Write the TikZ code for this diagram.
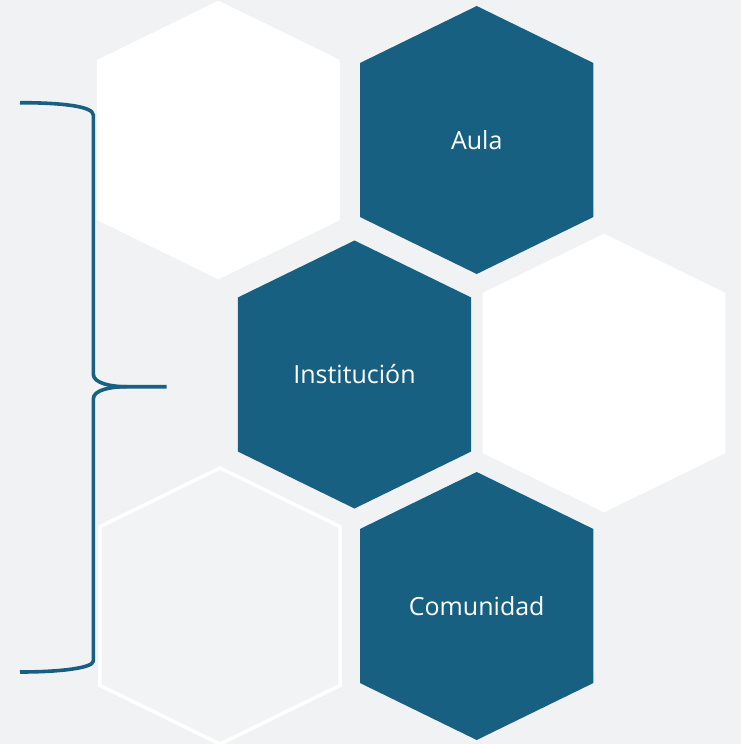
\documentclass[tikz,border=0pt]{standalone}
\usepackage{fontspec}
\setmainfont{Open Sans}
\definecolor{bgcol}{RGB}{241,242,243}
\definecolor{teal}{RGB}{23,96,130}
\tikzset{
  hexa/.pic={\path[pic actions] (0,-134) -- (116.7,-77) -- (116.7,77) -- (0,134) -- (-116.7,77) -- (-116.7,-77) -- cycle;},
  darkhex/.style={fill=teal},
  whitehex/.style={fill=white, scale=1.04},
  ghosthex/.style={fill=white, fill opacity=0.12, draw=white, line width=3.5pt, scale=1.03},
  hextext/.style={text=white, font=\fontsize{25}{30}\selectfont, anchor=base, inner sep=0pt},
  bracecurve/.style={draw=teal, line width=3.6pt}
}
\begin{document}
\begin{tikzpicture}[x=1pt,y=-1pt]
\fill[bgcol] (0,0) rectangle (741,744);
\useasboundingbox (0,0) rectangle (741,744);
% white hexagons
\pic[whitehex] at (218.5,140) {hexa};
\pic[whitehex] at (604,373) {hexa};
\pic[ghosthex] at (220,606) {hexa};
% dark hexagons
\pic[darkhex] at (476.7,140) {hexa};
\pic[darkhex] at (354.5,374.5) {hexa};
\pic[darkhex] at (476.7,606) {hexa};
% labels
\node[hextext] (aula) at (476.7,149.5) {Aula};
\node[hextext] (inst) at (354.5,383.5) {Institución};
\node[hextext] (comu) at (476.7,615) {Comunidad};
% brace
\coordinate (btop) at (20,102.7);
\coordinate (bmid) at (166.7,386.7);
\coordinate (bbot) at (20,672);
\draw[bracecurve] (btop) .. controls (60,102.7) and (93.3,106) .. (93.3,115)
  -- (93.3,374) .. controls (93.3,383) and (110,386.7) .. (126.7,386.7) -- (bmid);
\draw[bracecurve] (126.7,386.7) .. controls (110,386.7) and (93.3,390) .. (93.3,399)
  -- (93.3,661) .. controls (93.3,668) and (60,672) .. (bbot);
\end{tikzpicture}
\end{document}
